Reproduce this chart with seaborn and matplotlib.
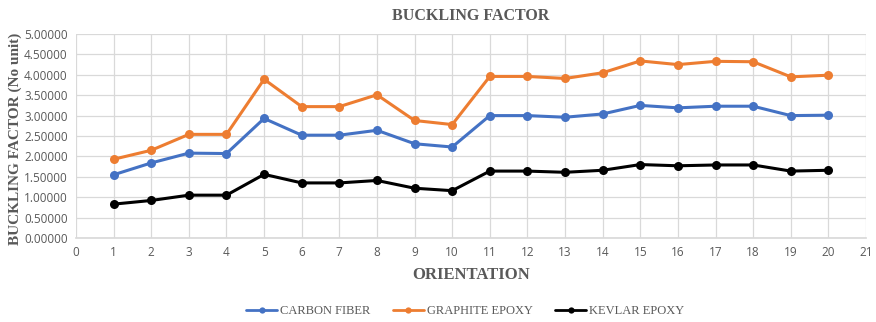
import matplotlib
matplotlib.use("Agg")
import matplotlib.pyplot as plt
import seaborn as sns
import pandas as pd

orientation = list(range(1, 21))
carbon_fiber = [1.55, 1.84, 2.08, 2.07, 2.93, 2.52, 2.52, 2.64, 2.31, 2.23,
                3.00, 3.00, 2.96, 3.04, 3.25, 3.19, 3.23, 3.23, 3.00, 3.01]
graphite_epoxy = [1.93, 2.15, 2.54, 2.54, 3.89, 3.22, 3.22, 3.51, 2.88, 2.78,
                  3.96, 3.96, 3.91, 4.05, 4.34, 4.25, 4.33, 4.32, 3.95, 3.99]
kevlar_epoxy = [0.83, 0.92, 1.05, 1.05, 1.56, 1.35, 1.35, 1.41, 1.22, 1.16,
                1.64, 1.64, 1.61, 1.66, 1.80, 1.77, 1.79, 1.79, 1.64, 1.66]
series_names = ["CARBON FIBER", "GRAPHITE EPOXY", "KEVLAR EPOXY"]
colors = ["#4472C4", "#ED7D31", "#000000"]

df = pd.DataFrame({
    "orientation": orientation * 3,
    "value": carbon_fiber + graphite_epoxy + kevlar_epoxy,
    "series": [series_names[0]] * 20 + [series_names[1]] * 20 + [series_names[2]] * 20,
})

sns.set_theme(style="white")
plt.rcParams["font.family"] = ["Liberation Serif", "DejaVu Serif"]

fig = plt.figure(figsize=(8.76, 3.22), dpi=100)
ax = fig.add_axes([76 / 876, 1 - 238 / 322, (866 - 76) / 876, (238 - 34) / 322])

sns.lineplot(data=df, x="orientation", y="value", hue="series",
             palette=dict(zip(series_names, colors)), marker="o",
             markersize=6.5, markeredgewidth=0, linewidth=2.2, ax=ax,
             legend=True)

ax.set_xlim(0, 21)
ax.set_ylim(0, 5)
ax.set_xticks(range(0, 22))
ax.set_yticks([i * 0.5 for i in range(11)])
ax.set_yticklabels([f"{i * 0.5:.5f}" for i in range(11)])
ax.tick_params(axis="both", labelsize=8.5, colors="#595959", length=0, pad=6)
for lbl in ax.get_xticklabels() + ax.get_yticklabels():
    lbl.set_fontfamily(["Open Sans", "DejaVu Sans"])
ax.grid(True, color="#d9d9d9", linewidth=0.9)
for side in ["top", "right", "left"]:
    ax.spines[side].set_visible(False)
ax.spines["bottom"].set_color("#d9d9d9")

ax.set_xlabel("ORIENTATION", fontsize=12, fontweight="bold", color="#595959")
ax.xaxis.set_label_coords(0.5, -(275 - 238) / 204)
ax.xaxis.label.set_va("center")
ax.set_ylabel("BUCKLING FACTOR (No unit)", fontsize=11, fontweight="bold",
              color="#595959")
ax.yaxis.set_label_coords((15 - 76) / 790, (238 - 139) / 204)
ax.yaxis.label.set_va("center")
fig.text(0.5 * (76 + 866) / 876, 1 - 16 / 322, "BUCKLING FACTOR",
         ha="center", va="center", fontsize=11.5, fontweight="bold", color="#595959")

handles, labels = ax.get_legend_handles_labels()
for h in handles:
    h.set_markersize(4.5)
    h.set_linewidth(2)
ax.legend(handles, labels, loc="center",
          bbox_to_anchor=((465 - 76) / 790, -(311 - 238) / 204),
          ncol=3, frameon=False, fontsize=9, labelcolor="#595959",
          handlelength=2.5, columnspacing=1.8, handletextpad=0.2)

fig.savefig("out.png", dpi=100)
